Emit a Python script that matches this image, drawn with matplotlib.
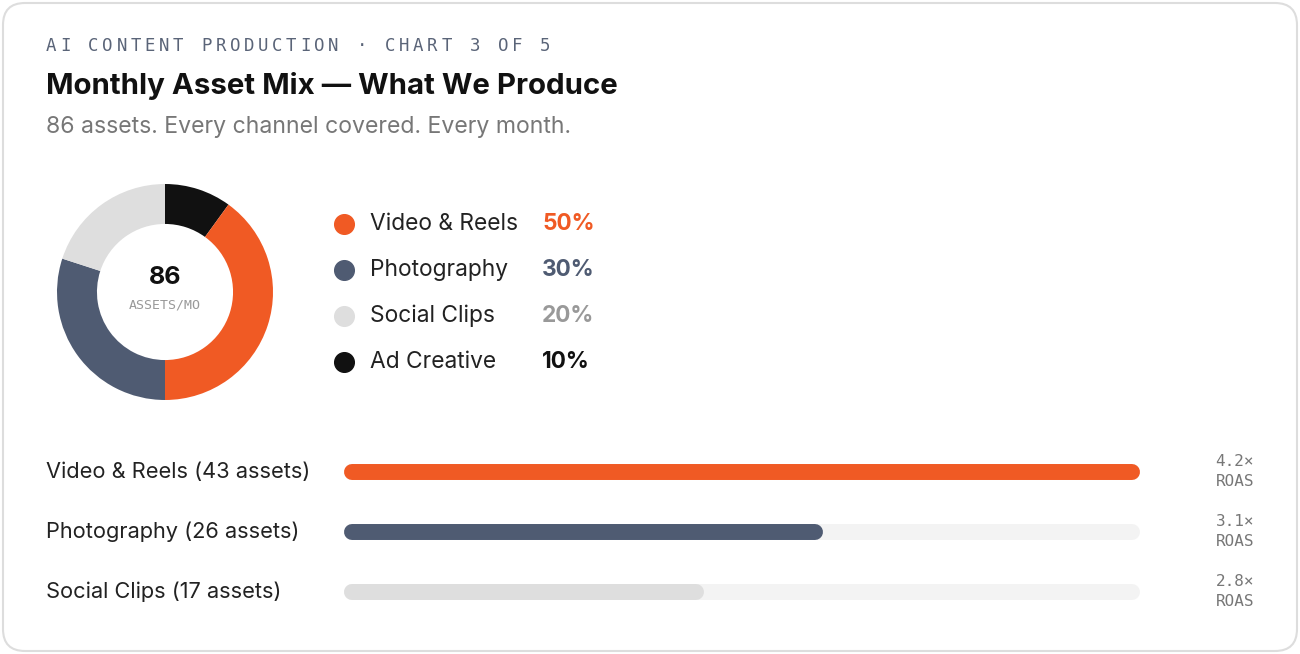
import matplotlib
matplotlib.use("Agg")
import matplotlib.pyplot as plt
from matplotlib.patches import FancyBboxPatch

W, H = 1300, 654
categories = ["Video & Reels", "Photography", "Social Clips", "Ad Creative"]
legend_pct = [50, 30, 20, 10]
donut_order = ["Ad Creative", "Video & Reels", "Photography", "Social Clips"]
donut_shares = [10, 40, 30, 20]
colors = {"Video & Reels": "#F05A24", "Photography": "#4F5B72",
          "Social Clips": "#DEDEDE", "Ad Creative": "#111111"}
pct_colors = {"Video & Reels": "#F05A24", "Photography": "#4F5B72",
              "Social Clips": "#999999", "Ad Creative": "#111111"}
bar_labels = ["Video & Reels (43 assets)", "Photography (26 assets)", "Social Clips (17 assets)"]
bar_fill = [100, 60, 45]
roas = ["4.2×", "3.1×", "2.8×"]
header = "AI CONTENT PRODUCTION · CHART 3 OF 5"

fig = plt.figure(figsize=(13, 6.54), dpi=100)
fig.patch.set_facecolor("white")
bg = fig.add_axes([0, 0, 1, 1]); bg.set_xlim(0, W); bg.set_ylim(H, 0); bg.axis("off")
bg.add_patch(FancyBboxPatch((3, 3), W - 6, H - 6, boxstyle="round,pad=0,rounding_size=22",
                            fc="white", ec="#DDDDDD", lw=1.5))
F = "Inter"
step = (550 - 46) / (len(header) - 0.3)
for k, ch in enumerate(header):
    bg.text(46 + k * step, 46, ch, family="DejaVu Sans Mono", fontsize=12.5,
            color="#5A6478", va="center")
bg.text(46, 86, "Monthly Asset Mix — What We Produce", family=F, fontsize=21.2,
        weight="bold", color="#111111", va="center")
bg.text(46, 127, "86 assets. Every channel covered. Every month.", family=F,
        fontsize=16.6, color="#777777", va="center")

# donut
cx, cy, r = 165, 292, 108
ax = fig.add_axes([(cx - r) / W, 1 - (cy + r) / H, 2 * r / W, 2 * r / H])
ax.pie(donut_shares, colors=[colors[c] for c in donut_order], startangle=90,
       counterclock=False, radius=1, wedgeprops=dict(width=0.37, edgecolor="none"))
ax.set_xlim(-1, 1); ax.set_ylim(-1, 1)
ax.set_aspect("equal"); ax.axis("off")
bg.text(cx, 277, "86", family=F, fontsize=18, weight="bold", color="#111111", ha="center", va="center")
bg.text(cx, 305, "ASSETS/MO", family="DejaVu Sans Mono", fontsize=9.5, color="#999999",
        ha="center", va="center")

# legend
for i, (c, p) in enumerate(zip(categories, legend_pct)):
    y = 224 + i * 46
    bg.scatter([344], [y], s=200, color=colors[c], zorder=3)
    bg.text(370, y, c, family=F, fontsize=16.4, color="#222222", va="center")
    bg.text(542, y, f"{p}%", family=F, fontsize=16.3, weight="bold", color=pct_colors[c], va="center")

# bars
x0, x1 = 346, 1138
bax = fig.add_axes([0, 0, 1, 1]); bax.set_xlim(0, W); bax.set_ylim(H, 0); bax.axis("off")
for i, (lab, f, ro) in enumerate(zip(bar_labels, bar_fill, roas)):
    y = 472 + i * 60
    c = colors[categories[i]]
    bax.plot([x0 + 6, x1 - 6], [y, y], color="#F3F3F3", lw=11.5, solid_capstyle="round")
    bax.plot([x0 + 6, x0 + (x1 - x0) * f / 100 - 6], [y, y], color=c, lw=11.5, solid_capstyle="round")
    bax.text(46, y, lab, family=F, fontsize=15.7, color="#222222", va="center")
    bax.text(1254, y - 11, ro, family="DejaVu Sans Mono", fontsize=11.5, color="#777777", ha="right", va="center")
    bax.text(1254, y + 9, "ROAS", family="DejaVu Sans Mono", fontsize=11.5, color="#777777", ha="right", va="center")

fig.savefig("out.png", dpi=100, facecolor="white")
